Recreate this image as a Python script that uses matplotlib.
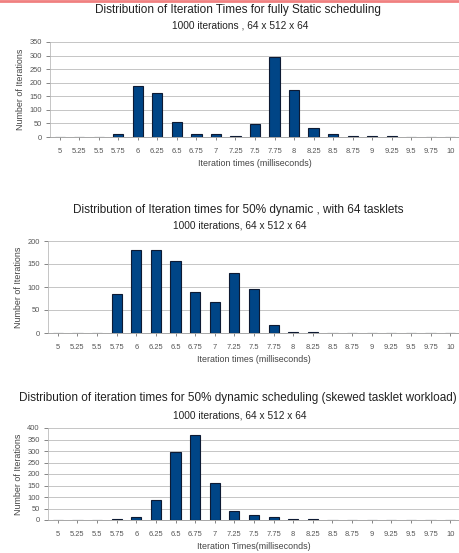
import matplotlib.pyplot as plt

plt.rcParams['font.family'] = ['Liberation Sans', 'DejaVu Sans']

times = ["5", "5.25", "5.5", "5.75", "6", "6.25", "6.5", "6.75", "7", "7.25", "7.5",
         "7.75", "8", "8.25", "8.5", "8.75", "9", "9.25", "9.5", "9.75", "10"]

static_counts = [0, 0, 0, 10, 187, 162, 56, 10, 10, 3, 47, 293, 172, 32, 10, 5, 2, 2, 0, 0, 0]
dynamic_counts = [0, 0, 0, 85, 181, 181, 157, 90, 68, 130, 96, 17, 2, 2, 0, 0, 0, 0, 0, 0, 0]
skewed_counts = [0, 0, 0, 3, 14, 89, 296, 369, 159, 38, 21, 12, 4, 4, 0, 0, 0, 0, 0, 0, 0]

titles = ["Distribution of Iteration Times for fully Static scheduling",
          "Distribution of Iteration times for 50% dynamic , with 64 tasklets",
          "Distribution of iteration times for 50% dynamic scheduling (skewed tasklet workload)"]
subtitles = ["1000 iterations , 64 x 512 x 64",
             "1000 iterations, 64 x 512 x 64",
             "1000 iterations, 64 x 512 x 64"]
xlabels = ["Iteration times (milliseconds)",
           "Iteration times (milliseconds)",
           "Iteration Times(milliseconds)"]
yticks = [[0, 50, 100, 150, 200, 250, 300, 350],
          [0, 50, 100, 150, 200],
          [0, 50, 100, 150, 200, 250, 300, 350, 400]]

W, H = 460, 553
fig = plt.figure(figsize=(W / 100, H / 100), dpi=100)

# [left px, top px, bottom px, title y px, subtitle y px]
layout = [[50, 42, 137, 10, 26],
          [48, 241, 333, 210, 226],
          [48, 428, 520, 398, 415]]

data = [static_counts, dynamic_counts, skewed_counts]
bar_color = "#004586"

for i in range(3):
    left, top, bottom, ty, sy = layout[i]
    ax = fig.add_axes([left / W, 1 - bottom / H, 1 - left / W, (bottom - top) / H])
    x = list(range(len(times)))
    ax.bar(x, data[i], width=0.52, color=bar_color, edgecolor="#0d1a33", linewidth=0.8, zorder=3)
    ax.set_xlim(-0.5, len(times) - 0.5)
    ax.set_ylim(0, yticks[i][-1])
    ax.set_yticks(yticks[i])
    ax.set_xticks(x)
    ax.set_xticklabels(times)
    ax.tick_params(axis="both", labelsize=5.4, colors="#555555", length=2, width=0.5, pad=6)
    ax.tick_params(axis="y", length=3, pad=3)
    ax.yaxis.grid(True, color="#bbbbbb", linewidth=0.6, zorder=0)
    for s in ["top", "right"]:
        ax.spines[s].set_visible(False)
    ax.spines["left"].set_color("#bbbbbb")
    ax.spines["bottom"].set_color("#999999")
    ax.spines["left"].set_linewidth(0.6)
    ax.spines["bottom"].set_linewidth(0.6)
    ax.set_xlabel(xlabels[i], fontsize=6.4, color="#444444", labelpad=3)
    ax.set_ylabel("Number of Iterations", fontsize=6.4, color="#444444", labelpad=3)
    fig.text(238 / W, 1 - ty / H, titles[i], ha="center", va="center", fontsize=8.5, color="#222222")
    fig.text(240 / W, 1 - sy / H, subtitles[i], ha="center", va="center", fontsize=7.3, color="#222222")

# thin pink strip at the very top of the image
fig.add_artist(plt.Line2D([0, 1], [1 - 1 / H, 1 - 1 / H], color="#f08080", linewidth=2))

fig.savefig("out.png", dpi=100)
